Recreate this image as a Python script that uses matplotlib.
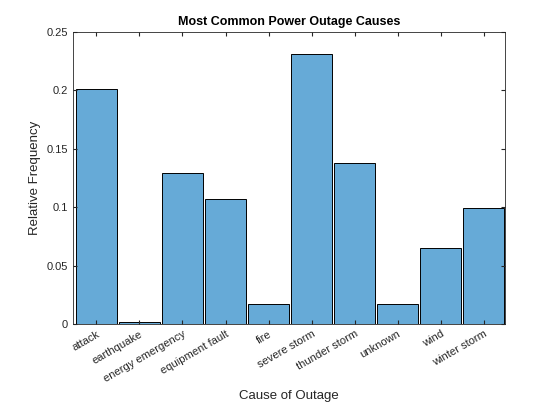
import matplotlib
matplotlib.use('Agg')
import matplotlib.pyplot as plt

plt.rcParams['font.family'] = ['Liberation Sans', 'DejaVu Sans']

causes = ['attack', 'earthquake', 'energy emergency', 'equipment fault', 'fire',
          'severe storm', 'thunder storm', 'unknown', 'wind', 'winter storm']
freq = [0.2012, 0.0017, 0.129, 0.107, 0.0171, 0.231, 0.138, 0.0171, 0.065, 0.0993]

fig = plt.figure(figsize=(5.6, 4.2), dpi=100)
ax = fig.add_axes([0.130, 0.2286, 0.772, 0.695])

pos = list(range(1, len(causes) + 1))
ax.bar(pos, freq, width=0.95, color='#66AAD7', edgecolor='black', linewidth=0.7)

ax.set_xlim(0.45, 10.5)
ax.set_ylim(0, 0.25)
ax.set_yticks([0, 0.05, 0.1, 0.15, 0.2, 0.25])
ax.set_yticklabels(['0', '0.05', '0.1', '0.15', '0.2', '0.25'])
ax.set_xticks(pos)
ax.set_xticklabels(causes, rotation=30, ha='right', rotation_mode='anchor')
ax.tick_params(direction='in', top=True, right=True, labelsize=8, length=3,
               colors='#262626', labelcolor='#262626')
for s in ax.spines.values():
    s.set_color('#262626')
    s.set_linewidth(0.6)

ax.set_title('Most Common Power Outage Causes', fontsize=9, fontweight='bold', pad=5)
ax.set_ylabel('Relative Frequency', fontsize=9.5, color='#262626')
ax.set_xlabel('Cause of Outage', fontsize=9.5, color='#262626')

fig.savefig('out.png', dpi=100)
